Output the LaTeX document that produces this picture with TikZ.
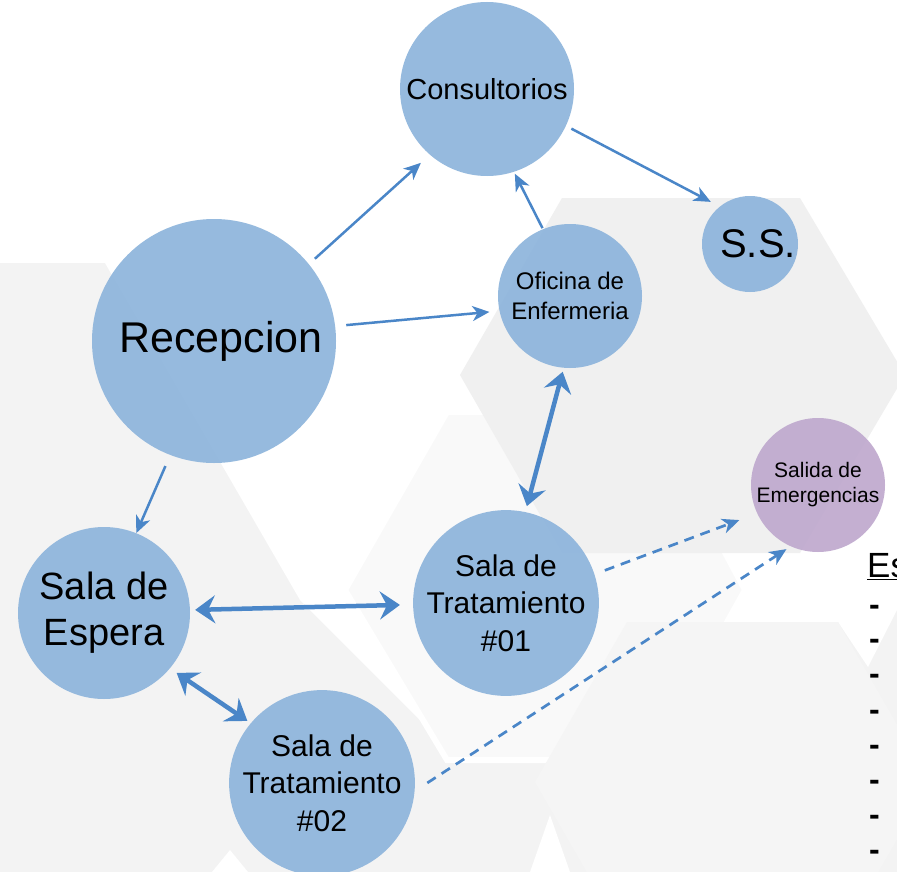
\documentclass[tikz,border=0pt]{standalone}
\usepackage{fontspec}
\setmainfont{Liberation Sans}
\usetikzlibrary{arrows.meta}
\definecolor{nodeblue}{RGB}{139,179,219}
\definecolor{nodepurple}{RGB}{190,167,205}
\definecolor{arrowblue}{RGB}{74,134,200}
\definecolor{bggrey}{RGB}{243,243,243}
\definecolor{hexgrey}{RGB}{240,240,240}
\definecolor{hexsoft}{RGB}{245,245,245}
\definecolor{hexlight}{RGB}{249,249,249}
\begin{document}
\begin{tikzpicture}[x=1pt,y=-1pt,
  room/.style={circle, fill=nodeblue, fill opacity=0.9, text opacity=1, inner sep=0pt, align=center, text=black},
  thinarr/.style={draw=arrowblue, line width=2.5pt, -{Stealth[length=17pt,width=15pt,inset=5pt]}},
  thickarr/.style={draw=arrowblue, line width=4.5pt, {Stealth[length=20pt,width=28pt,inset=7pt]}-{Stealth[length=20pt,width=28pt,inset=7pt]}},
  dasharr/.style={draw=arrowblue, line width=2.7pt, dash pattern=on 10pt off 7pt, -{Stealth[length=17pt,width=15pt,inset=5pt]}},
  listtext/.style={anchor=base west, inner sep=0pt, font=\fontsize{32}{38}\selectfont\bfseries}
]
\useasboundingbox (0,0) rectangle (897,872);
\fill[white] (0,0) rectangle (897,872);
% background hexagon pattern
\fill[bggrey] (0,263) rectangle (897,872);
\fill[white] (105,263) -- (897,263) -- (897,610) -- (868,667) -- (838,622) -- (627,622)
  -- (560,740) -- (420,720) -- (300,600) -- cycle;
\filldraw[fill=hexlight, draw=white, line width=6pt] (345,590) -- (447,412) -- (650,412) -- (745,590) -- (650,760) -- (447,760) -- cycle;
\fill[hexgrey] (460,375) -- (562,198) -- (800,198) -- (905,375) -- (800,553) -- (562,553) -- cycle;
\fill[hexsoft] (535,782) -- (627,622) -- (838,622) -- (930,782) -- (838,942) -- (627,942) -- cycle;
\fill[white] (212,872) -- (230,850) -- (248,872) -- cycle;
\fill[white] (530,872) -- (550,815) -- (570,872) -- cycle;

% rooms
\node[room, minimum size=174pt, font=\fontsize{29}{35}\selectfont] (con) at (487,89) {Consultorios};
\node[room, minimum size=96pt, font=\fontsize{40}{48}\selectfont] (ss) at (750,244) {\hspace*{16pt}S.S.};
\node[room, minimum size=244pt, font=\fontsize{43}{52}\selectfont] (rec) at (214,341) {\hspace*{14pt}Recepcion};
\node[room, minimum size=144pt, font=\fontsize{24}{30}\selectfont] (ofi) at (570,296) {Oficina de\\Enfermeria};
\node[room, fill=nodepurple, minimum size=134pt, font=\fontsize{21}{25}\selectfont] (sal) at (818,485) {Salida de\\Emergencias};
\node[room, minimum size=172pt, font=\fontsize{38}{46}\selectfont] (esp) at (104,613) {Sala de\\Espera};
\node[room, minimum size=171pt, font=\fontsize{30}{37.5}\selectfont] (st1) at (506,603) {Sala de\\Tratamiento\\\#01};
\node[room, minimum size=171pt, font=\fontsize{30}{37.5}\selectfont] (st2) at (322,783) {Sala de\\Tratamiento\\\#02};

% connectors
\draw[thinarr, shorten <=8pt, shorten >=12pt] (rec.39) -- (con.229);
\draw[thinarr, shorten <=11pt, shorten >=10pt] (rec.7) -- (ofi.192);
\draw[thinarr, shorten <=1pt, shorten >=2pt] (ofi.112) -- (con.288);
\draw[thinarr, shorten <=6pt, shorten >=10pt] (con.335) -- (ss.129);
\draw[thinarr, shorten <=12pt] (rec.249) -- (esp.68);
\draw[thickarr, shorten <=4pt, shorten >=6pt] (ofi.265) -- (st1.78);
\draw[thickarr, shorten <=5pt, shorten >=13pt] (esp.2.5) -- (st1.181);
\draw[thickarr, shorten <=8pt, shorten >=4pt] (esp.320) -- (st2.140);
\draw[dasharr, shorten <=11pt, shorten >=19pt] (st1.18) -- (sal.205);
\draw[dasharr, shorten <=15pt, shorten >=5pt] (st2.355) -- (sal.246);

% partial list at right edge
\node[anchor=base west, inner sep=0pt, font=\fontsize{35}{42}\selectfont] (es) at (867,577) {\underline{Es}};
\foreach \yy [count=\i] in {607,641,676,712,747,782,817,852}
  \node[listtext] (d\i) at (869,\yy+8) {-};
\end{tikzpicture}
\end{document}
